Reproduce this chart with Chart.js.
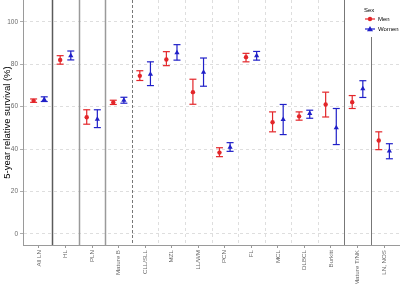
<!DOCTYPE html>
<html>
<head>
<meta charset="utf-8">
<script src="https://cdn.jsdelivr.net/npm/chart.js@4"></script>
<style>
  body { margin: 0; background: #fff; }
  #wrap { width: 400px; height: 284px; }
</style>
</head>
<body>
<div id="wrap"><canvas id="myChart" width="400" height="284"></canvas></div>
<script>
const labels = ['All LN', 'HL', 'PLN', 'Mature B', 'CLL/SLL', 'MZL', 'LL/WM', 'PCN', 'FL', 'MCL', 'DLBCL', 'Burkitt', 'Mature T/NK', 'LN, NOS'];
const menEst = [62.7, 82.0, 55.0, 61.9, 74.5, 82.2, 66.8, 38.3, 83.3, 52.6, 55.4, 61.0, 62.1, 44.0];
const menLow = [62.0, 80.0, 51.7, 61.0, 72.3, 79.3, 61.1, 36.4, 81.1, 48.1, 53.6, 55.1, 59.1, 39.7];
const menHigh = [63.6, 84.0, 58.5, 63.0, 76.9, 85.9, 72.9, 40.6, 85.1, 57.5, 57.5, 66.8, 65.2, 48.1];
const womenEst = [63.4, 84.0, 54.0, 63.0, 75.3, 85.4, 76.2, 40.8, 84.0, 53.9, 56.7, 50.0, 68.4, 39.1];
const womenLow = [62.4, 82.0, 50.1, 61.6, 69.9, 81.9, 69.6, 38.9, 81.9, 46.8, 54.5, 42.1, 64.3, 35.4];
const womenHigh = [64.6, 86.2, 58.5, 64.4, 81.1, 89.2, 82.9, 43.0, 86.0, 61.0, 58.3, 59.1, 72.2, 42.5];
const yTicks = [0, 20, 40, 60, 80, 100];

const menColor = '#e3262a';
const womenColor = '#2020c8';
const dodge = 0.2;
const fontFamily = '"Liberation Sans", Arial, sans-serif';

// error bar segments: low, high, then a gap
function bars(lo, hi, shift) {
    const out = [];
    lo.forEach((v, i) => {
        out.push({x: i + shift, y: v});
        out.push({x: i + shift, y: hi[i]});
        out.push({x: i + shift, y: null});
    });
    return out;
}

// separators between groups
const separators = {
    id: 'separators',
    beforeDatasetsDraw(chart) {
        const {ctx, chartArea: a, scales: {x}} = chart;
        ctx.save();
        for (let k = 0; k < labels.length - 1; k++) {
            const px = Math.round(x.getPixelForValue(k + 0.5)) + 0.5;
            let color = '#d6d6d6', width = 0.8, dash = [3, 3];
            if (k === 0) { color = '#5a5a5a'; width = 1.5; dash = []; }
            else if (k === 1 || k === 2) { color = '#9a9a9a'; width = 1.5; dash = []; }
            else if (k === 3) { color = '#555'; width = 0.8; dash = [3, 2]; }
            else if (k === 11 || k === 12) { color = '#777'; width = 1; dash = []; }
            ctx.strokeStyle = color;
            ctx.lineWidth = width;
            ctx.setLineDash(dash);
            ctx.beginPath();
            ctx.moveTo(px, a.top);
            ctx.lineTo(px, a.bottom);
            ctx.stroke();
        }
        ctx.restore();
    }
};

// ggplot style legend in the top right corner
const sexLegend = {
    id: 'sexLegend',
    afterDraw(chart) {
        const {ctx} = chart;
        ctx.save();
        ctx.fillStyle = '#fff';
        ctx.fillRect(346, 0, 54, 37);
        ctx.fillStyle = '#000';
        ctx.font = '6px ' + fontFamily;
        ctx.textBaseline = 'middle';
        ctx.fillText('Sex', 364, 10);
        const rows = [
            {text: 'Men', color: menColor, y: 19, style: 'circle'},
            {text: 'Women', color: womenColor, y: 29, style: 'triangle'}
        ];
        rows.forEach(r => {
            ctx.strokeStyle = r.color;
            ctx.lineWidth = 1.2;
            ctx.beginPath();
            ctx.moveTo(365, r.y);
            ctx.lineTo(375, r.y);
            ctx.stroke();
            ctx.fillStyle = r.color;
            ctx.beginPath();
            if (r.style === 'circle') {
                ctx.arc(370, r.y, 2.2, 0, Math.PI * 2);
            } else {
                ctx.moveTo(370, r.y - 3);
                ctx.lineTo(373, r.y + 2.2);
                ctx.lineTo(367, r.y + 2.2);
                ctx.closePath();
            }
            ctx.fill();
            ctx.fillStyle = '#000';
            ctx.fillText(r.text, 378, r.y);
        });
        ctx.restore();
    }
};

const ctx = document.getElementById('myChart').getContext('2d');
const myChart = new Chart(ctx, {
    type: 'scatter',
    data: {
        datasets: [
            {
                label: 'Men CI',
                data: bars(menLow, menHigh, -dodge),
                showLine: true,
                spanGaps: false,
                borderColor: menColor,
                borderWidth: 1.2,
                pointStyle: 'line',
                pointRadius: 3.5,
                pointBorderColor: menColor,
                pointBorderWidth: 1.2
            },
            {
                label: 'Women CI',
                data: bars(womenLow, womenHigh, dodge),
                showLine: true,
                spanGaps: false,
                borderColor: womenColor,
                borderWidth: 1.2,
                pointStyle: 'line',
                pointRadius: 3.5,
                pointBorderColor: womenColor,
                pointBorderWidth: 1.2
            },
            {
                label: 'Men',
                data: menEst.map((v, i) => ({x: i - dodge, y: v})),
                pointStyle: 'circle',
                pointRadius: 2.2,
                backgroundColor: menColor,
                borderColor: menColor,
                borderWidth: 0
            },
            {
                label: 'Women',
                data: womenEst.map((v, i) => ({x: i + dodge, y: v})),
                pointStyle: 'triangle',
                pointRadius: 3,
                backgroundColor: womenColor,
                borderColor: womenColor,
                borderWidth: 0
            }
        ]
    },
    options: {
        responsive: false,
        animation: false,
        events: [],
        layout: { padding: 0, autoPadding: false },
        scales: {
            x: {
                type: 'linear',
                min: -0.6,
                max: 13.6,
                afterBuildTicks: s => { s.ticks = labels.map((l, i) => ({value: i})); },
                afterFit: s => { s.height = 39; s.paddingLeft = 0; s.paddingRight = 0; },
                ticks: {
                    autoSkip: false,
                    minRotation: 90,
                    maxRotation: 90,
                    padding: 2,
                    color: '#6b6b6b',
                    font: {size: 6.2, family: fontFamily},
                    callback: v => labels[v]
                },
                grid: {
                    drawOnChartArea: false,
                    tickLength: 3,
                    tickColor: '#999'
                },
                border: { color: '#9a9a9a', width: 1 }
            },
            y: {
                min: -5.25,
                max: 110.25,
                afterBuildTicks: s => { s.ticks = yTicks.map(v => ({value: v})); },
                afterFit: s => { s.width = 23; s.paddingTop = 0; s.paddingBottom = 0; },
                ticks: {
                    padding: 2,
                    color: '#6b6b6b',
                    font: {size: 6.5, family: fontFamily}
                },
                grid: {
                    color: '#d6d6d6',
                    lineWidth: 0.8,
                    tickLength: 3,
                    tickColor: '#999'
                },
                border: { color: '#9a9a9a', width: 1, dash: [3, 3] },
                title: {
                    display: true,
                    text: '5-year relative survival (%)',
                    color: '#000',
                    font: {size: 9.5, family: fontFamily},
                    padding: {top: 2, bottom: 0}
                }
            }
        },
        plugins: {
            legend: { display: false },
            tooltip: { enabled: false }
        }
    },
    plugins: [separators, sexLegend]
});
</script>
</body>
</html>
